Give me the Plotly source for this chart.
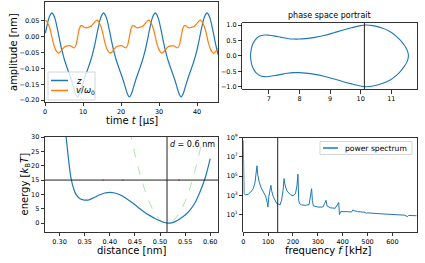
import plotly.graph_objects as go

# ---------------- data ----------------
t_us = [0.1, 0.525, 0.95, 1.375, 1.8, 2.225, 2.65, 3.075,
        3.5, 3.925, 4.35, 4.775, 5.2, 5.625, 6.05, 6.475,
        6.9, 7.325, 7.75, 8.175, 8.6, 9.025, 9.45, 9.875,
        10.3, 10.725, 11.15, 11.575, 12.0, 12.425, 12.85, 13.275,
        13.7, 14.125, 14.55, 14.975, 15.4, 15.825, 16.25, 16.675,
        17.1, 17.525, 17.95, 18.375, 18.8, 19.225, 19.65, 20.075,
        20.5, 20.925, 21.35, 21.775, 22.2, 22.625, 23.05, 23.475,
        23.9, 24.325, 24.75, 25.175, 25.6, 26.025, 26.45, 26.875,
        27.3, 27.725, 28.15, 28.575, 29.0, 29.425, 29.85, 30.275,
        30.7, 31.125, 31.55, 31.975, 32.4, 32.825, 33.25, 33.675,
        34.1, 34.525, 34.95, 35.375, 35.8, 36.225, 36.65, 37.075,
        37.5, 37.925, 38.35, 38.775, 39.2, 39.625, 40.05, 40.475,
        40.9, 41.325, 41.75, 42.175, 42.6, 43.025, 43.45, 43.875,
        44.3, 44.725, 45.15, 45.575]

z_nm = [0.011, 0.035, 0.056, 0.069, 0.075, 0.069, 0.056, 0.035,
        0.011, -0.015, -0.038, -0.058, -0.076, -0.091, -0.106, -0.120,
        -0.135, -0.151, -0.169, -0.183, -0.190, -0.183, -0.169, -0.151,
        -0.135, -0.120, -0.106, -0.091, -0.076, -0.058, -0.038, -0.015,
        0.011, 0.035, 0.056, 0.069, 0.075, 0.069, 0.056, 0.035,
        0.011, -0.015, -0.038, -0.058, -0.076, -0.091, -0.106, -0.120,
        -0.135, -0.151, -0.169, -0.183, -0.190, -0.183, -0.169, -0.151,
        -0.135, -0.120, -0.106, -0.091, -0.076, -0.058, -0.038, -0.015,
        0.011, 0.035, 0.056, 0.069, 0.075, 0.069, 0.056, 0.035,
        0.011, -0.015, -0.038, -0.058, -0.076, -0.091, -0.106, -0.120,
        -0.135, -0.151, -0.169, -0.183, -0.190, -0.183, -0.169, -0.151,
        -0.135, -0.120, -0.106, -0.091, -0.076, -0.058, -0.038, -0.015,
        0.011, 0.035, 0.056, 0.069, 0.075, 0.069, 0.056, 0.035,
        0.011, -0.015, -0.038, -0.058]

v_over_w0_nm = [0.052, 0.047, 0.037, 0.022, 0.000, -0.022, -0.037, -0.047,
                -0.052, -0.049, -0.043, -0.037, -0.032, -0.030, -0.029, -0.028,
                -0.030, -0.034, -0.035, -0.025, 0.000, 0.025, 0.035, 0.034,
                0.030, 0.028, 0.029, 0.030, 0.032, 0.037, 0.043, 0.049,
                0.052, 0.047, 0.037, 0.022, 0.000, -0.022, -0.037, -0.047,
                -0.052, -0.049, -0.043, -0.037, -0.032, -0.030, -0.029, -0.028,
                -0.030, -0.034, -0.035, -0.025, 0.000, 0.025, 0.035, 0.034,
                0.030, 0.028, 0.029, 0.030, 0.032, 0.037, 0.043, 0.049,
                0.052, 0.047, 0.037, 0.022, 0.000, -0.022, -0.037, -0.047,
                -0.052, -0.049, -0.043, -0.037, -0.032, -0.030, -0.029, -0.028,
                -0.030, -0.034, -0.035, -0.025, 0.000, 0.025, 0.035, 0.034,
                0.030, 0.028, 0.029, 0.030, 0.032, 0.037, 0.043, 0.049,
                0.052, 0.047, 0.037, 0.022, 0.000, -0.022, -0.037, -0.047,
                -0.052, -0.049, -0.043, -0.037]

# phase space portrait (closed loop)
ps_pos = [6.40, 6.42, 6.46, 6.52, 6.60, 6.70, 6.85, 7.00, 7.20, 7.40, 7.60, 7.80,
          8.00, 8.20, 8.50, 8.80, 9.10, 9.40, 9.70, 10.00, 10.15, 10.40, 10.70,
          10.95, 11.15, 11.30, 11.42, 11.50, 11.54, 11.56,
          11.54, 11.50, 11.42, 11.30, 11.15, 10.95, 10.70, 10.40, 10.15, 10.00,
          9.70, 9.40, 9.10, 8.80, 8.50, 8.20, 8.00, 7.80, 7.60, 7.40, 7.20, 7.00,
          6.85, 6.70, 6.60, 6.52, 6.46, 6.42, 6.40]
ps_vel = [0.00, 0.20, 0.35, 0.47, 0.57, 0.64, 0.675, 0.67, 0.64, 0.60, 0.565, 0.545,
          0.545, 0.56, 0.60, 0.66, 0.74, 0.83, 0.91, 0.98, 1.00, 0.98, 0.90,
          0.79, 0.65, 0.50, 0.35, 0.22, 0.12, 0.00,
          -0.12, -0.22, -0.35, -0.50, -0.65, -0.79, -0.90, -0.98, -1.00, -0.98,
          -0.91, -0.83, -0.74, -0.66, -0.60, -0.56, -0.545, -0.545, -0.565, -0.60, -0.64, -0.67,
          -0.675, -0.64, -0.57, -0.47, -0.35, -0.20, 0.00]
ps_marker_pos = 10.12

# energy landscape
dist_nm = [0.308, 0.313, 0.318, 0.323, 0.328, 0.333, 0.340, 0.347, 0.353, 0.360,
           0.370, 0.380, 0.390, 0.400, 0.410, 0.420, 0.430, 0.440, 0.450, 0.460,
           0.470, 0.480, 0.490, 0.500, 0.507, 0.515, 0.523, 0.530, 0.540, 0.550,
           0.560, 0.570, 0.580, 0.590, 0.600]
energy_kT = [36, 30, 22, 15.5, 12, 9.9, 8.6, 8.1, 8.0, 8.2,
             9.0, 9.9, 10.5, 10.7, 10.5, 9.9, 8.9, 7.7, 6.4, 5.0,
             3.7, 2.6, 1.6, 0.8, 0.3, 0.0, 0.1, 0.5, 1.5, 2.8,
             4.6, 7.2, 11.0, 15.8, 22.5]
harm_dist_nm = [0.440, 0.450, 0.460, 0.470, 0.480, 0.490, 0.500, 0.510, 0.514,
                0.520, 0.530, 0.540, 0.550, 0.560, 0.570, 0.580, 0.590]
harm_energy_kT = [32.1, 24.0, 17.1, 11.4, 6.8, 3.4, 1.15, 0.09, 0.0,
                  0.21, 1.5, 4.0, 7.6, 12.4, 18.4, 25.6, 33.9]
d_marker_nm = 0.514
E_level_kT = 15
level_dots_nm = [0.387, 0.426, 0.538]
level_dots_kT = [15, 15, 15]

# power spectrum
freq_khz = [0, 1, 3, 8, 20, 30, 40, 47, 52, 55, 58, 64, 72, 80, 90, 97, 99, 103, 108, 111,
            114, 121, 134, 148, 154, 160, 164, 168, 175, 190, 200, 210, 216, 220, 223, 226,
            235, 250, 265, 272, 275, 278, 282, 300, 320, 328, 333, 337, 350, 370, 380, 384,
            387, 392, 420, 435, 441, 446, 460, 490, 495, 497, 550, 600, 650, 660, 665, 698]
power = [5e8, 1e6, 1.5e3, 1.1e3, 1.3e3, 2.2e3, 5e3, 2e4, 1.5e5, 1.2e6, 1.5e5, 2.5e4, 6e3,
         2.5e3, 8e2, 1.5e2, 6e1, 8e2, 4e3, 1.1e4, 3e3, 7e2, 1.5e2, 1e2, 3e2, 3e3, 5.5e4,
         1.2e4, 3e3, 1.1e3, 9e2, 1.5e3, 1e4, 1.6e5, 3e2, 1.4e2, 1e2, 9e1, 1.1e2, 1e3, 5e3,
         3e2, 8e1, 6e1, 6e1, 1.5e2, 3e2, 8e1, 5e1, 4.5e1, 1e2, 1.8e2, 1e1, 2e1, 2e1, 1.8e1,
         3e1, 2.5e1, 2e1, 1.7e1, 1.3e1, 1.5e1, 1.2e1, 1e1, 8.5, 6, 8, 7.5]
f_marker_khz = 138.5

log_ticks = [1e1, 1e3, 1e5, 1e7, 1e9]
log_tick_text = ["10<sup>1</sup>", "10<sup>3</sup>", "10<sup>5</sup>", "10<sup>7</sup>", "10<sup>9</sup>"]

series_labels = ["<i>z</i>", "<i>v</i>/<i>ω</i><sub>0</sub>"]
spectrum_label = "power spectrum"

# ---------------- styling ----------------
W, H = 425, 263
BLUE = "#1f77b4"
ORANGE = "#ff7f0e"
FONT = "DejaVu Sans"


def fx(p):
    return p / W


def fy(p):
    return 1 - p / H


def axis_style(**kw):
    d = dict(showline=True, mirror=True, linecolor="black", linewidth=0.8,
             ticks="outside", ticklen=3.5, tickwidth=0.8, tickcolor="black",
             showgrid=False, zeroline=False, automargin=False,
             tickfont=dict(family=FONT, size=6.5, color="black"))
    d.update(kw)
    return d


fig = go.Figure()

# top-left: time series
fig.add_trace(go.Scatter(x=t_us, y=z_nm, mode="lines", name=series_labels[0], showlegend=False,
                         line=dict(color=BLUE, width=1.2, shape="spline", smoothing=0.8),
                         xaxis="x", yaxis="y"))
fig.add_trace(go.Scatter(x=t_us, y=v_over_w0_nm, mode="lines", name=series_labels[1],
                         showlegend=False,
                         line=dict(color=ORANGE, width=1.2, shape="spline", smoothing=0.8),
                         xaxis="x", yaxis="y"))

# top-right: phase portrait
fig.add_trace(go.Scatter(x=ps_pos, y=ps_vel, mode="lines", showlegend=False,
                         line=dict(color=BLUE, width=1.1, shape="spline"),
                         xaxis="x2", yaxis="y2"))

# bottom-left: energy
fig.add_trace(go.Scatter(x=harm_dist_nm, y=harm_energy_kT, mode="lines", showlegend=False,
                         line=dict(color="rgba(80,190,80,0.5)", width=0.9, dash="dash",
                                   shape="spline"),
                         xaxis="x3", yaxis="y3"))
fig.add_trace(go.Scatter(x=dist_nm, y=energy_kT, mode="lines", showlegend=False,
                         line=dict(color=BLUE, width=1.2, shape="spline"),
                         xaxis="x3", yaxis="y3"))
fig.add_trace(go.Scatter(x=level_dots_nm, y=level_dots_kT, mode="markers", showlegend=False,
                         marker=dict(color=ORANGE, size=2, opacity=0.6),
                         xaxis="x3", yaxis="y3"))

# bottom-right: spectrum
fig.add_trace(go.Scatter(x=freq_khz, y=power, mode="lines", name=spectrum_label,
                         showlegend=False, line=dict(color=BLUE, width=1.0),
                         xaxis="x4", yaxis="y4"))

# reference lines
line_k = dict(color="#222222", width=1.0)
shapes = [
    dict(type="line", xref="x2", yref="y2 domain", x0=ps_marker_pos, x1=ps_marker_pos,
         y0=0, y1=1, line=line_k),
    dict(type="line", xref="x3", yref="y3 domain", x0=d_marker_nm, x1=d_marker_nm,
         y0=0, y1=1, line=line_k),
    dict(type="line", xref="x3 domain", yref="y3", x0=0, x1=1,
         y0=E_level_kT, y1=E_level_kT, line=line_k),
    dict(type="line", xref="x4", yref="y4 domain", x0=f_marker_khz, x1=f_marker_khz,
         y0=0, y1=1, line=line_k),
]

# legend boxes (drawn like matplotlib legends)
legend_box = dict(type="rect", xref="paper", yref="paper",
                  fillcolor="rgba(255,255,255,0.8)", line=dict(color="#cccccc", width=0.8))
shapes.append(dict(legend_box, x0=fx(48), x1=fx(95), y0=fy(100), y1=fy(72)))
shapes.append(dict(type="line", xref="paper", yref="paper", x0=fx(51), x1=fx(68),
                   y0=fy(80.5), y1=fy(80.5), line=dict(color=BLUE, width=1.5)))
shapes.append(dict(type="line", xref="paper", yref="paper", x0=fx(51), x1=fx(68),
                   y0=fy(90.5), y1=fy(90.5), line=dict(color=ORANGE, width=1.5)))
shapes.append(dict(legend_box, x0=fx(320), x1=fx(412), y0=fy(154.5), y1=fy(141.5)))
shapes.append(dict(type="line", xref="paper", yref="paper", x0=fx(323), x1=fx(338),
                   y0=fy(148), y1=fy(148), line=dict(color=BLUE, width=1.5)))

TLx = [fx(45), fx(218)]
TLy = [fy(102), fy(1.5)]
TRx = [fx(242.3), fx(416.7)]
TRy = [fy(89.3), fy(22.7)]
BLx = [fx(45), fx(218)]
BLy = [fy(232), fy(137)]
BRx = [fx(243.3), fx(416.7)]
BRy = [fy(232), fy(137.7)]

fig.update_layout(
    width=W, height=H, margin=dict(l=0, r=0, t=0, b=0, autoexpand=False),
    paper_bgcolor="white", plot_bgcolor="white",
    font=dict(family=FONT, color="black"),
    showlegend=False, hovermode=False,
    xaxis=axis_style(domain=TLx, anchor="y", range=[0, 45.5], tickvals=[0, 10, 20, 30, 40]),
    yaxis=axis_style(domain=TLy, anchor="x", range=[-0.206, 0.111],
                     tickvals=[0.05, 0.0, -0.05, -0.10, -0.15, -0.20], tickformat=".2f"),
    xaxis2=axis_style(domain=TRx, anchor="y2", range=[6.13, 11.83], tickvals=[7, 8, 9, 10, 11]),
    yaxis2=axis_style(domain=TRy, anchor="x2", range=[-1.085, 1.075],
                      tickvals=[-1.0, -0.5, 0.0, 0.5, 1.0], tickformat=".1f"),
    xaxis3=axis_style(domain=BLx, anchor="y3", range=[0.271, 0.6155],
                      tickvals=[0.30, 0.35, 0.40, 0.45, 0.50, 0.55, 0.60], tickformat=".2f"),
    yaxis3=axis_style(domain=BLy, anchor="x3", range=[-3.1, 30],
                      tickvals=[0, 5, 10, 15, 20, 25, 30]),
    xaxis4=axis_style(domain=BRx, anchor="y4", range=[0, 698],
                      tickvals=[0, 100, 200, 300, 400, 500, 600]),
    yaxis4=axis_style(domain=BRy, anchor="x4", type="log", range=[-0.82, 9],
                      tickvals=log_ticks, ticktext=log_tick_text),
    shapes=shapes,
)

ann_font = dict(family=FONT, size=10, color="black")
annotations = [
    dict(text="time <i>t</i> [µs]", x=fx(131.7), y=fy(120.5), xanchor="center", yanchor="middle"),
    dict(text="amplitude [nm]", x=fx(13), y=fy(52), textangle=-90, xanchor="center", yanchor="middle"),
    dict(text="distance [nm]", x=fx(131.7), y=fy(250), xanchor="center", yanchor="middle"),
    dict(text="energy [<i>k</i><sub>B</sub><i>T</i>]", x=fx(25), y=fy(184.5), textangle=-90,
         xanchor="center", yanchor="middle"),
    dict(text="frequency <i>f</i> [kHz]", x=fx(328), y=fy(250), xanchor="center", yanchor="middle"),
]
for a in annotations:
    a.update(xref="paper", yref="paper", showarrow=False, font=ann_font)
small = dict(family=FONT, size=8, color="black")
annotations += [
    dict(text="phase space portrait", x=fx(329.5), y=fy(15.7), xref="paper", yref="paper",
         showarrow=False, xanchor="center", yanchor="middle", font=small),
    dict(text="<i>d</i> = 0.6 nm", x=fx(168), y=fy(144.3), xref="paper", yref="paper",
         showarrow=False, xanchor="left", yanchor="middle", font=small),
    dict(text=series_labels[0], x=fx(74), y=fy(80.5), xref="paper", yref="paper",
         showarrow=False, xanchor="left", yanchor="middle", font=dict(family=FONT, size=8.5)),
    dict(text=series_labels[1], x=fx(74), y=fy(90.5), xref="paper", yref="paper",
         showarrow=False, xanchor="left", yanchor="middle", font=dict(family=FONT, size=8.5)),
    dict(text=spectrum_label, x=fx(343), y=fy(148), xref="paper", yref="paper",
         showarrow=False, xanchor="left", yanchor="middle", font=dict(family=FONT, size=7.6)),
]
fig.update_layout(annotations=annotations)

fig.write_html("out.html",
               config={"displayModeBar": False, "staticPlot": True},
               post_script="document.body.style.margin='0px';"
                           "document.body.style.overflow='hidden';")
